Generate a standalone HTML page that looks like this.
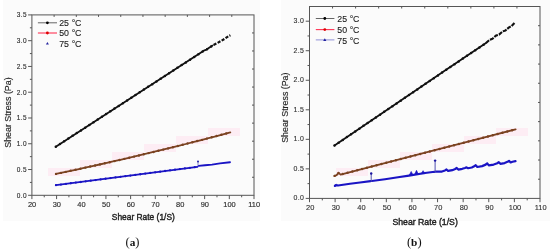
<!DOCTYPE html><html><head><meta charset="utf-8"><style>
html,body{margin:0;padding:0;background:#fff;width:550px;height:252px;overflow:hidden}
svg{display:block;filter:blur(.3px)} text{font-family:'Liberation Sans', Arial, sans-serif} .tl{font-size:8.1px;fill:#2b2b2b;stroke:#2b2b2b;stroke-width:.15px} .tr{font-size:8.1px;fill:#2e2e2e;stroke:#2e2e2e;stroke-width:.12px} .lg{font-size:8.8px;fill:#1a1a1a;stroke:#1a1a1a;stroke-width:.1px} .ti{font-size:8.85px;fill:#1e1e1e;stroke:#1e1e1e;stroke-width:.4px} .tiy{font-size:8.85px;fill:#262626;stroke:#262626;stroke-width:.15px} .cap{font-family:"Liberation Serif","Times New Roman",serif;font-weight:bold;font-size:11.3px;fill:#111}
</style></head><body>
<svg width="550" height="252" viewBox="0 0 550 252">
<rect x="3" y="0" width="257" height="221" fill="#fbfbfb"/>
<rect x="281" y="0" width="269" height="221" fill="#fbfbfb"/>
<rect x="48" y="168" width="32" height="8" fill="#fdedf4"/>
<rect x="80" y="160" width="32" height="8" fill="#fdedf4"/>
<rect x="112" y="152" width="32" height="8" fill="#fdedf4"/>
<rect x="144" y="144" width="32" height="8" fill="#fdedf4"/>
<rect x="176" y="136" width="32" height="8" fill="#fdedf4"/>
<rect x="208" y="128" width="32" height="8" fill="#fdedf4"/>
<rect x="336" y="168" width="32" height="8" fill="#fdedf4"/>
<rect x="368" y="160" width="32" height="8" fill="#fdedf4"/>
<rect x="400" y="152" width="32" height="8" fill="#fdedf4"/>
<rect x="432" y="144" width="32" height="8" fill="#fdedf4"/>
<rect x="464" y="136" width="32" height="8" fill="#fdedf4"/>
<rect x="496" y="128" width="32" height="8" fill="#fdedf4"/>
<rect x="31.90" y="14.90" width="222.10" height="180.40" fill="none" stroke="#555" stroke-width="1"/>
<line x1="31.90" y1="195.30" x2="31.90" y2="199.10" stroke="#555" stroke-width="1"/>
<text transform="translate(32.10,207.00) scale(0.92,1)" class="tl" text-anchor="middle">20</text>
<line x1="44.24" y1="195.30" x2="44.24" y2="197.30" stroke="#555" stroke-width="1"/>
<line x1="56.58" y1="195.30" x2="56.58" y2="199.10" stroke="#555" stroke-width="1"/>
<text transform="translate(56.78,207.00) scale(0.92,1)" class="tl" text-anchor="middle">30</text>
<line x1="68.92" y1="195.30" x2="68.92" y2="197.30" stroke="#555" stroke-width="1"/>
<line x1="81.26" y1="195.30" x2="81.26" y2="199.10" stroke="#555" stroke-width="1"/>
<text transform="translate(81.46,207.00) scale(0.92,1)" class="tl" text-anchor="middle">40</text>
<line x1="93.59" y1="195.30" x2="93.59" y2="197.30" stroke="#555" stroke-width="1"/>
<line x1="105.93" y1="195.30" x2="105.93" y2="199.10" stroke="#555" stroke-width="1"/>
<text transform="translate(106.13,207.00) scale(0.92,1)" class="tl" text-anchor="middle">50</text>
<line x1="118.27" y1="195.30" x2="118.27" y2="197.30" stroke="#555" stroke-width="1"/>
<line x1="130.61" y1="195.30" x2="130.61" y2="199.10" stroke="#555" stroke-width="1"/>
<text transform="translate(130.81,207.00) scale(0.92,1)" class="tl" text-anchor="middle">60</text>
<line x1="142.95" y1="195.30" x2="142.95" y2="197.30" stroke="#555" stroke-width="1"/>
<line x1="155.29" y1="195.30" x2="155.29" y2="199.10" stroke="#555" stroke-width="1"/>
<text transform="translate(155.49,207.00) scale(0.92,1)" class="tl" text-anchor="middle">70</text>
<line x1="167.63" y1="195.30" x2="167.63" y2="197.30" stroke="#555" stroke-width="1"/>
<line x1="179.97" y1="195.30" x2="179.97" y2="199.10" stroke="#555" stroke-width="1"/>
<text transform="translate(180.17,207.00) scale(0.92,1)" class="tl" text-anchor="middle">80</text>
<line x1="192.31" y1="195.30" x2="192.31" y2="197.30" stroke="#555" stroke-width="1"/>
<line x1="204.64" y1="195.30" x2="204.64" y2="199.10" stroke="#555" stroke-width="1"/>
<text transform="translate(204.84,207.00) scale(0.92,1)" class="tl" text-anchor="middle">90</text>
<line x1="216.98" y1="195.30" x2="216.98" y2="197.30" stroke="#555" stroke-width="1"/>
<line x1="229.32" y1="195.30" x2="229.32" y2="199.10" stroke="#555" stroke-width="1"/>
<text transform="translate(229.52,207.00) scale(0.92,1)" class="tl" text-anchor="middle">100</text>
<line x1="241.66" y1="195.30" x2="241.66" y2="197.30" stroke="#555" stroke-width="1"/>
<line x1="254.00" y1="195.30" x2="254.00" y2="199.10" stroke="#555" stroke-width="1"/>
<text transform="translate(254.20,207.00) scale(0.92,1)" class="tl" text-anchor="middle">110</text>
<line x1="28.10" y1="195.30" x2="31.90" y2="195.30" stroke="#555" stroke-width="1"/>
<text transform="translate(27.00,197.70) scale(0.8,1)" class="tl" text-anchor="end" letter-spacing="0.5">0.0</text>
<line x1="29.90" y1="182.42" x2="31.90" y2="182.42" stroke="#555" stroke-width="1"/>
<line x1="28.10" y1="169.53" x2="31.90" y2="169.53" stroke="#555" stroke-width="1"/>
<text transform="translate(27.00,171.93) scale(0.8,1)" class="tl" text-anchor="end" letter-spacing="0.5">0.5</text>
<line x1="29.90" y1="156.65" x2="31.90" y2="156.65" stroke="#555" stroke-width="1"/>
<line x1="28.10" y1="143.76" x2="31.90" y2="143.76" stroke="#555" stroke-width="1"/>
<text transform="translate(27.00,146.16) scale(0.8,1)" class="tl" text-anchor="end" letter-spacing="0.5">1.0</text>
<line x1="29.90" y1="130.88" x2="31.90" y2="130.88" stroke="#555" stroke-width="1"/>
<line x1="28.10" y1="117.99" x2="31.90" y2="117.99" stroke="#555" stroke-width="1"/>
<text transform="translate(27.00,120.39) scale(0.8,1)" class="tl" text-anchor="end" letter-spacing="0.5">1.5</text>
<line x1="29.90" y1="105.11" x2="31.90" y2="105.11" stroke="#555" stroke-width="1"/>
<line x1="28.10" y1="92.22" x2="31.90" y2="92.22" stroke="#555" stroke-width="1"/>
<text transform="translate(27.00,94.62) scale(0.8,1)" class="tl" text-anchor="end" letter-spacing="0.5">2.0</text>
<line x1="29.90" y1="79.34" x2="31.90" y2="79.34" stroke="#555" stroke-width="1"/>
<line x1="28.10" y1="66.45" x2="31.90" y2="66.45" stroke="#555" stroke-width="1"/>
<text transform="translate(27.00,68.85) scale(0.8,1)" class="tl" text-anchor="end" letter-spacing="0.5">2.5</text>
<line x1="29.90" y1="53.57" x2="31.90" y2="53.57" stroke="#555" stroke-width="1"/>
<line x1="28.10" y1="40.68" x2="31.90" y2="40.68" stroke="#555" stroke-width="1"/>
<text transform="translate(27.00,43.08) scale(0.8,1)" class="tl" text-anchor="end" letter-spacing="0.5">3.0</text>
<line x1="29.90" y1="27.80" x2="31.90" y2="27.80" stroke="#555" stroke-width="1"/>
<line x1="28.10" y1="14.91" x2="31.90" y2="14.91" stroke="#555" stroke-width="1"/>
<text transform="translate(27.00,17.31) scale(0.8,1)" class="tl" text-anchor="end" letter-spacing="0.5">3.5</text>
<line x1="54.11" y1="14.90" x2="54.11" y2="16.90" stroke="#555" stroke-width="1"/>
<line x1="252.00" y1="32.94" x2="254.00" y2="32.94" stroke="#555" stroke-width="1"/>
<line x1="76.32" y1="14.90" x2="76.32" y2="16.90" stroke="#555" stroke-width="1"/>
<line x1="252.00" y1="50.98" x2="254.00" y2="50.98" stroke="#555" stroke-width="1"/>
<line x1="98.53" y1="14.90" x2="98.53" y2="16.90" stroke="#555" stroke-width="1"/>
<line x1="252.00" y1="69.02" x2="254.00" y2="69.02" stroke="#555" stroke-width="1"/>
<line x1="120.74" y1="14.90" x2="120.74" y2="16.90" stroke="#555" stroke-width="1"/>
<line x1="252.00" y1="87.06" x2="254.00" y2="87.06" stroke="#555" stroke-width="1"/>
<line x1="142.95" y1="14.90" x2="142.95" y2="16.90" stroke="#555" stroke-width="1"/>
<line x1="252.00" y1="105.10" x2="254.00" y2="105.10" stroke="#555" stroke-width="1"/>
<line x1="165.16" y1="14.90" x2="165.16" y2="16.90" stroke="#555" stroke-width="1"/>
<line x1="252.00" y1="123.14" x2="254.00" y2="123.14" stroke="#555" stroke-width="1"/>
<line x1="187.37" y1="14.90" x2="187.37" y2="16.90" stroke="#555" stroke-width="1"/>
<line x1="252.00" y1="141.18" x2="254.00" y2="141.18" stroke="#555" stroke-width="1"/>
<line x1="209.58" y1="14.90" x2="209.58" y2="16.90" stroke="#555" stroke-width="1"/>
<line x1="252.00" y1="159.22" x2="254.00" y2="159.22" stroke="#555" stroke-width="1"/>
<line x1="231.79" y1="14.90" x2="231.79" y2="16.90" stroke="#555" stroke-width="1"/>
<line x1="252.00" y1="177.26" x2="254.00" y2="177.26" stroke="#555" stroke-width="1"/>
<polyline points="55.80,146.70 204.50,50.30 206.50,49.60 212.50,45.60" fill="none" stroke="#111" stroke-width="1.8" stroke-linejoin="round" stroke-linecap="round"/>
<polyline points="55.80,146.70 204.50,50.30 206.50,49.60 212.50,45.60" fill="none" stroke="#111" stroke-width="2.5" stroke-linecap="round" stroke-dasharray="0 5"/>
<polyline points="213.5,44.9 217.6,42.9 221.2,40.9 224.8,38.7 228.7,36.1 230.4,35.2" fill="none" stroke="#111" stroke-width="2.2" stroke-linejoin="round" stroke-dasharray="3.2 1.4"/>
<polyline points="56.00,173.90 63.26,172.38 70.53,170.84 77.79,169.28 85.05,167.71 92.31,166.11 99.58,164.50 106.84,162.87 114.10,161.22 121.36,159.56 128.62,157.87 135.89,156.17 143.15,154.45 150.41,152.71 157.68,150.96 164.94,149.18 172.20,147.39 179.46,145.58 186.73,143.75 193.99,141.90 201.25,140.04 208.51,138.16 215.78,136.26 223.04,134.34 230.30,132.40" fill="none" stroke="#7a4220" stroke-width="1.8" stroke-linejoin="round" stroke-linecap="round"/>
<polyline points="56.00,173.90 63.26,172.38 70.53,170.84 77.79,169.28 85.05,167.71 92.31,166.11 99.58,164.50 106.84,162.87 114.10,161.22 121.36,159.56 128.62,157.87 135.89,156.17 143.15,154.45 150.41,152.71 157.68,150.96 164.94,149.18 172.20,147.39 179.46,145.58 186.73,143.75 193.99,141.90 201.25,140.04 208.51,138.16 215.78,136.26 223.04,134.34 230.30,132.40" fill="none" stroke="#7a4220" stroke-width="2.4" stroke-linecap="round" stroke-dasharray="0 5"/>
<polyline points="56.00,185.20 197.40,166.81" fill="none" stroke="#1a14c4" stroke-width="1.8" stroke-linejoin="round" stroke-linecap="round"/>
<polyline points="56.00,185.20 197.40,166.81" fill="none" stroke="#1a14c4" stroke-width="2.3" stroke-linecap="round" stroke-dasharray="0 5"/>
<polyline points="198.60,165.85 205.00,165.20 212.00,164.58 220.00,163.32 230.00,162.20" fill="none" stroke="#1a14c4" stroke-width="1.9" stroke-linejoin="round" stroke-linecap="round"/>
<line x1="198" y1="161.6" x2="198" y2="165.6" stroke="#6a6ab8" stroke-width=".8"/><circle cx="198" cy="161.6" r="1" fill="#22a"/>
<line x1="37.9" y1="22.8" x2="57" y2="22.8" stroke="#666" stroke-width="1"/><circle cx="47.4" cy="22.8" r="1.4" fill="#000"/>
<line x1="37.9" y1="33" x2="57" y2="33" stroke="#f35" stroke-width="1.1"/><circle cx="47.4" cy="33" r="1.4" fill="#d00"/>
<path d="M47.4 41.9 L48.9 44.4 L45.9 44.4 Z" fill="#2626a0"/>
<text x="59.2" y="25.6" class="lg">25 <tspan dx="0.2">°</tspan><tspan dx="-0.15">C</tspan></text>
<text x="59.2" y="36.1" class="lg">50 <tspan dx="0.2">°</tspan><tspan dx="-0.15">C</tspan></text>
<text x="59.2" y="46.5" class="lg">75 <tspan dx="0.2">°</tspan><tspan dx="-0.15">C</tspan></text>
<text x="111.8" y="220.3" class="ti" textLength="63" lengthAdjust="spacingAndGlyphs">Shear Rate (1/S)</text>
<text transform="translate(11,147.7) rotate(-90)" class="tiy">Shear Stress (Pa)</text>
<text x="125.5" y="246" class="cap"><tspan font-size="12.6px" font-weight="normal">(</tspan>a<tspan font-size="12.6px" font-weight="normal">)</tspan></text>
<rect x="309.50" y="6.50" width="230.50" height="191.90" fill="none" stroke="#555" stroke-width="1"/>
<line x1="309.50" y1="198.40" x2="309.50" y2="202.20" stroke="#555" stroke-width="1"/>
<text transform="translate(310.15,210.00) scale(0.92,1)" class="tr" text-anchor="middle">20</text>
<line x1="322.31" y1="198.40" x2="322.31" y2="200.40" stroke="#555" stroke-width="1"/>
<line x1="335.11" y1="198.40" x2="335.11" y2="202.20" stroke="#555" stroke-width="1"/>
<text transform="translate(335.76,210.00) scale(0.92,1)" class="tr" text-anchor="middle">30</text>
<line x1="347.92" y1="198.40" x2="347.92" y2="200.40" stroke="#555" stroke-width="1"/>
<line x1="360.72" y1="198.40" x2="360.72" y2="202.20" stroke="#555" stroke-width="1"/>
<text transform="translate(361.37,210.00) scale(0.92,1)" class="tr" text-anchor="middle">40</text>
<line x1="373.53" y1="198.40" x2="373.53" y2="200.40" stroke="#555" stroke-width="1"/>
<line x1="386.33" y1="198.40" x2="386.33" y2="202.20" stroke="#555" stroke-width="1"/>
<text transform="translate(386.98,210.00) scale(0.92,1)" class="tr" text-anchor="middle">50</text>
<line x1="399.14" y1="198.40" x2="399.14" y2="200.40" stroke="#555" stroke-width="1"/>
<line x1="411.94" y1="198.40" x2="411.94" y2="202.20" stroke="#555" stroke-width="1"/>
<text transform="translate(412.59,210.00) scale(0.92,1)" class="tr" text-anchor="middle">60</text>
<line x1="424.75" y1="198.40" x2="424.75" y2="200.40" stroke="#555" stroke-width="1"/>
<line x1="437.56" y1="198.40" x2="437.56" y2="202.20" stroke="#555" stroke-width="1"/>
<text transform="translate(438.21,210.00) scale(0.92,1)" class="tr" text-anchor="middle">70</text>
<line x1="450.36" y1="198.40" x2="450.36" y2="200.40" stroke="#555" stroke-width="1"/>
<line x1="463.17" y1="198.40" x2="463.17" y2="202.20" stroke="#555" stroke-width="1"/>
<text transform="translate(463.82,210.00) scale(0.92,1)" class="tr" text-anchor="middle">80</text>
<line x1="475.97" y1="198.40" x2="475.97" y2="200.40" stroke="#555" stroke-width="1"/>
<line x1="488.78" y1="198.40" x2="488.78" y2="202.20" stroke="#555" stroke-width="1"/>
<text transform="translate(489.43,210.00) scale(0.92,1)" class="tr" text-anchor="middle">90</text>
<line x1="501.58" y1="198.40" x2="501.58" y2="200.40" stroke="#555" stroke-width="1"/>
<line x1="514.39" y1="198.40" x2="514.39" y2="202.20" stroke="#555" stroke-width="1"/>
<text transform="translate(515.04,210.00) scale(0.92,1)" class="tr" text-anchor="middle">100</text>
<line x1="527.19" y1="198.40" x2="527.19" y2="200.40" stroke="#555" stroke-width="1"/>
<line x1="540.00" y1="198.40" x2="540.00" y2="202.20" stroke="#555" stroke-width="1"/>
<text transform="translate(540.65,210.00) scale(0.92,1)" class="tr" text-anchor="middle">110</text>
<line x1="305.70" y1="198.40" x2="309.50" y2="198.40" stroke="#555" stroke-width="1"/>
<text transform="translate(304.20,200.30) scale(0.86,1)" class="tr" text-anchor="end" letter-spacing="0.35">0.0</text>
<line x1="307.50" y1="183.63" x2="309.50" y2="183.63" stroke="#555" stroke-width="1"/>
<line x1="305.70" y1="168.87" x2="309.50" y2="168.87" stroke="#555" stroke-width="1"/>
<text transform="translate(304.20,170.77) scale(0.86,1)" class="tr" text-anchor="end" letter-spacing="0.35">0.5</text>
<line x1="307.50" y1="154.10" x2="309.50" y2="154.10" stroke="#555" stroke-width="1"/>
<line x1="305.70" y1="139.33" x2="309.50" y2="139.33" stroke="#555" stroke-width="1"/>
<text transform="translate(304.20,141.23) scale(0.86,1)" class="tr" text-anchor="end" letter-spacing="0.35">1.0</text>
<line x1="307.50" y1="124.56" x2="309.50" y2="124.56" stroke="#555" stroke-width="1"/>
<line x1="305.70" y1="109.80" x2="309.50" y2="109.80" stroke="#555" stroke-width="1"/>
<text transform="translate(304.20,111.70) scale(0.86,1)" class="tr" text-anchor="end" letter-spacing="0.35">1.5</text>
<line x1="307.50" y1="95.03" x2="309.50" y2="95.03" stroke="#555" stroke-width="1"/>
<line x1="305.70" y1="80.26" x2="309.50" y2="80.26" stroke="#555" stroke-width="1"/>
<text transform="translate(304.20,82.16) scale(0.86,1)" class="tr" text-anchor="end" letter-spacing="0.35">2.0</text>
<line x1="307.50" y1="65.49" x2="309.50" y2="65.49" stroke="#555" stroke-width="1"/>
<line x1="305.70" y1="50.72" x2="309.50" y2="50.72" stroke="#555" stroke-width="1"/>
<text transform="translate(304.20,52.62) scale(0.86,1)" class="tr" text-anchor="end" letter-spacing="0.35">2.5</text>
<line x1="307.50" y1="35.96" x2="309.50" y2="35.96" stroke="#555" stroke-width="1"/>
<line x1="305.70" y1="21.19" x2="309.50" y2="21.19" stroke="#555" stroke-width="1"/>
<text transform="translate(304.20,23.09) scale(0.86,1)" class="tr" text-anchor="end" letter-spacing="0.35">3.0</text>
<line x1="332.55" y1="6.50" x2="332.55" y2="8.50" stroke="#555" stroke-width="1"/>
<line x1="538.00" y1="25.69" x2="540.00" y2="25.69" stroke="#555" stroke-width="1"/>
<line x1="355.60" y1="6.50" x2="355.60" y2="8.50" stroke="#555" stroke-width="1"/>
<line x1="538.00" y1="44.88" x2="540.00" y2="44.88" stroke="#555" stroke-width="1"/>
<line x1="378.65" y1="6.50" x2="378.65" y2="8.50" stroke="#555" stroke-width="1"/>
<line x1="538.00" y1="64.07" x2="540.00" y2="64.07" stroke="#555" stroke-width="1"/>
<line x1="401.70" y1="6.50" x2="401.70" y2="8.50" stroke="#555" stroke-width="1"/>
<line x1="538.00" y1="83.26" x2="540.00" y2="83.26" stroke="#555" stroke-width="1"/>
<line x1="424.75" y1="6.50" x2="424.75" y2="8.50" stroke="#555" stroke-width="1"/>
<line x1="538.00" y1="102.45" x2="540.00" y2="102.45" stroke="#555" stroke-width="1"/>
<line x1="447.80" y1="6.50" x2="447.80" y2="8.50" stroke="#555" stroke-width="1"/>
<line x1="538.00" y1="121.64" x2="540.00" y2="121.64" stroke="#555" stroke-width="1"/>
<line x1="470.85" y1="6.50" x2="470.85" y2="8.50" stroke="#555" stroke-width="1"/>
<line x1="538.00" y1="140.83" x2="540.00" y2="140.83" stroke="#555" stroke-width="1"/>
<line x1="493.90" y1="6.50" x2="493.90" y2="8.50" stroke="#555" stroke-width="1"/>
<line x1="538.00" y1="160.02" x2="540.00" y2="160.02" stroke="#555" stroke-width="1"/>
<line x1="516.95" y1="6.50" x2="516.95" y2="8.50" stroke="#555" stroke-width="1"/>
<line x1="538.00" y1="179.21" x2="540.00" y2="179.21" stroke="#555" stroke-width="1"/>
<polyline points="334.50,145.50 420.00,87.60 445.00,70.60 486.00,43.00" fill="none" stroke="#111" stroke-width="1.8" stroke-linejoin="round" stroke-linecap="round"/>
<polyline points="334.50,145.50 420.00,87.60 445.00,70.60 486.00,43.00" fill="none" stroke="#111" stroke-width="2.5" stroke-linecap="round" stroke-dasharray="0 5"/>
<polyline points="486,43 489.5,39.8 492.5,38.7 496,35.6 499,34.6 502.5,31.5 505.5,30.4 509,27.4 511.5,26.2 514.8,22.6" fill="none" stroke="#111" stroke-width="2.1" stroke-linejoin="round" stroke-dasharray="4.2 1"/>
<polyline points="334.60,175.90 336.60,175.20 338.60,172.90 340.60,174.60 380.00,164.30 430.00,151.40 470.00,141.10 515.60,129.30" fill="none" stroke="#7a4220" stroke-width="1.8" stroke-linejoin="round" stroke-linecap="round"/>
<polyline points="334.60,175.90 336.60,175.20 338.60,172.90 340.60,174.60 380.00,164.30 430.00,151.40 470.00,141.10 515.60,129.30" fill="none" stroke="#7a4220" stroke-width="2.4" stroke-linecap="round" stroke-dasharray="0 5"/>
<polyline points="334.80,186.00 336.00,185.24 338.00,185.57 350.00,183.74 360.00,182.58 370.60,181.15" fill="none" stroke="#1a14c4" stroke-width="2.1" stroke-linejoin="round" stroke-linecap="round"/>
<polyline points="371.80,180.98 385.00,179.19 398.00,177.23 409.00,175.64 425.00,173.07 432.60,171.94 434.50,171.88" fill="none" stroke="#1a14c4" stroke-width="2.1" stroke-linejoin="round" stroke-linecap="round"/>
<polyline points="435.70,171.72 437.40,171.59 441.95,171.57 445.00,170.43 446.50,169.46 448.10,170.94 452.30,170.17 455.20,169.00 456.70,167.97 458.30,169.56 462.30,168.81 465.00,167.99 466.50,167.34 468.10,168.23 471.80,167.53 474.20,166.33 475.70,165.20 477.30,166.98 482.15,166.12 485.70,164.64 487.20,163.34 488.80,165.42 493.70,164.56 497.30,163.25 498.80,162.16 500.40,163.85 504.60,163.08 507.50,161.86 509.00,160.78 510.60,162.46 512.50,161.71 515.50,161.20" fill="none" stroke="#1a14c4" stroke-width="2.2" stroke-linejoin="round" stroke-linecap="round"/>
<path d="M334.20 185.41 L336.20 184.21 L338.20 185.41 Z" fill="#1a14c4" stroke="#1a14c4" stroke-width=".6" stroke-linejoin="round"/>
<path d="M409.20 175.24 L411.20 171.44 L413.20 175.24 Z" fill="#1a14c4" stroke="#1a14c4" stroke-width=".6" stroke-linejoin="round"/>
<path d="M414.50 174.52 L416.50 170.32 L418.50 174.52 Z" fill="#1a14c4" stroke="#1a14c4" stroke-width=".6" stroke-linejoin="round"/>
<path d="M421.10 173.63 L423.10 170.63 L425.10 173.63 Z" fill="#1a14c4" stroke="#1a14c4" stroke-width=".6" stroke-linejoin="round"/>
<line x1="371.2" y1="173.5" x2="371.2" y2="181.6" stroke="#5050b0" stroke-width="1"/><circle cx="371.2" cy="173.5" r="1.2" fill="#1a14a0"/>
<line x1="435.1" y1="160.6" x2="435.1" y2="172.2" stroke="#5050b0" stroke-width="1"/><circle cx="435.1" cy="160.6" r="1.2" fill="#1a14a0"/>
<line x1="315.8" y1="18.5" x2="334.4" y2="18.5" stroke="#666" stroke-width="1"/><circle cx="324.8" cy="18.5" r="1.4" fill="#000"/>
<line x1="315.8" y1="29.6" x2="334.4" y2="29.6" stroke="#f35" stroke-width="1.1"/><circle cx="324.8" cy="29.6" r="1.4" fill="#d00"/>
<line x1="315.8" y1="39.9" x2="334.4" y2="39.9" stroke="#4848c0" stroke-width=".6"/><path d="M324.8 38.3 L326.4 41 L323.2 41 Z" fill="#2222a0"/>
<text x="337.3" y="22.4" class="lg">25 <tspan dx="0.2">°</tspan><tspan dx="-0.15">C</tspan></text>
<text x="337.3" y="33.4" class="lg">50 <tspan dx="0.2">°</tspan><tspan dx="-0.15">C</tspan></text>
<text x="337.3" y="43.7" class="lg">75 <tspan dx="0.2">°</tspan><tspan dx="-0.15">C</tspan></text>
<text x="392.4" y="224.6" class="ti" textLength="65.4" lengthAdjust="spacingAndGlyphs">Shear Rate (1/S)</text>
<text transform="translate(287.5,142.8) rotate(-90)" class="tiy">Shear Stress (Pa)</text>
<text x="406.9" y="246" class="cap"><tspan font-size="12.6px" font-weight="normal">(</tspan>b<tspan font-size="12.6px" font-weight="normal">)</tspan></text>
</svg></body></html>
